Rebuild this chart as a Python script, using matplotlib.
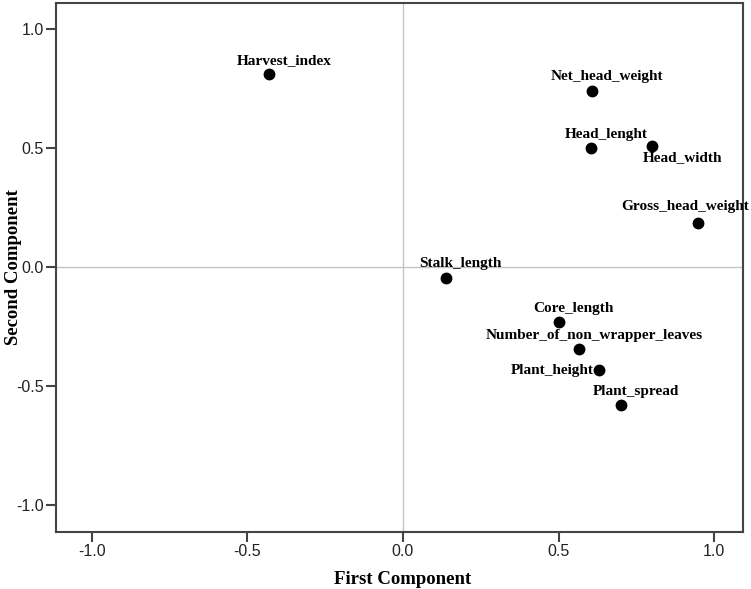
import matplotlib
matplotlib.use("Agg")
import matplotlib.pyplot as plt

# component loadings
variables = ["Harvest_index", "Net_head_weight", "Head_lenght", "Head_width",
             "Gross_head_weight", "Stalk_length", "Core_length",
             "Number_of_non_wrapper_leaves", "Plant_height", "Plant_spread"]
first = [-0.429, 0.609, 0.604, 0.800, 0.949, 0.137, 0.501, 0.566, 0.630, 0.700]
second = [0.811, 0.742, 0.500, 0.510, 0.187, -0.044, -0.232, -0.344, -0.433, -0.581]

xticks = [-1.0, -0.5, 0.0, 0.5, 1.0]
yticks = [-1.0, -0.5, 0.0, 0.5, 1.0]

# label offsets in pixels (dx, dy) and alignment
offsets = {
    "Head_width": (31, -12, "center"),
    "Gross_head_weight": (-13, 16, "center"),
    "Plant_height": (-5, 0, "right"),
}

fig = plt.figure(figsize=(7.51, 5.89), dpi=100)
ax = fig.add_axes([0.0746, 0.0973, 0.9144, 0.8981])

ax.axhline(0, color="#c4c4c4", lw=1, zorder=1)
ax.axvline(0, color="#c4c4c4", lw=1, zorder=1)

ax.plot(first, second, "o", color="black", markersize=7.5, zorder=3)

for name, x, y in zip(variables, first, second):
    dx, dy, ha = offsets.get(name, (15, 14, "center"))
    ax.annotate(name, (x, y), xytext=(dx, dy), textcoords="offset pixels",
                ha=ha, va="center", fontsize=11, fontweight="bold",
                family="Liberation Serif", color="black", zorder=4)

ax.set_xlim(-1.115, 1.092)
ax.set_ylim(-1.112, 1.112)
ax.set_xticks(xticks)
ax.set_yticks(yticks)
ax.set_xticklabels([f"{t:.1f}" for t in xticks])
ax.set_yticklabels([f"{t:.1f}" for t in yticks])
ax.tick_params(direction="out", length=7, width=1.5, color="#444444",
               labelsize=11.5, labelcolor="#222222", pad=2)
for lab in ax.get_xticklabels() + ax.get_yticklabels():
    lab.set_family("Liberation Sans")

for sp in ax.spines.values():
    sp.set_color("#444444")
    sp.set_linewidth(1.5)

ax.set_xlabel("First Component", fontsize=13.5, fontweight="bold",
              family="Liberation Serif")
ax.set_ylabel("Second Component", fontsize=13.5, fontweight="bold",
              family="Liberation Serif")
ax.xaxis.set_label_coords(0.505, -0.074)
ax.yaxis.set_label_coords(-0.049, 0.5)

fig.savefig("out.png", dpi=100)
